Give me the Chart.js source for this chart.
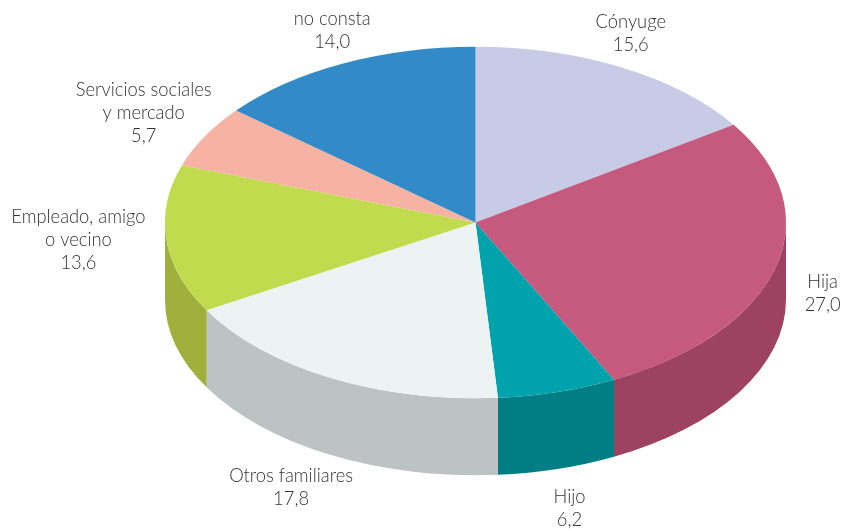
<!DOCTYPE html>
<html>
<head>
<meta charset="utf-8">
<title>Pie</title>
<script src="https://cdn.jsdelivr.net/npm/chart.js@4"></script>
<style>
    html, body { margin: 0; padding: 0; background: #fff; overflow: hidden; }
    #wrap { width: 844px; height: 530px; overflow: hidden; }
</style>
</head>
<body>
<div id="wrap"><canvas id="pie" width="844" height="622"></canvas></div>
<script>
const categories = ['Cónyuge', 'Hija', 'Hijo', 'Otros familiares', 'Empleado, amigo|o vecino', 'Servicios sociales|y mercado', 'no consta'];
const values = [15.6, 27.0, 6.2, 17.8, 13.6, 5.7, 14.0];
const topColors = ['#C8CBE5', '#C5597E', '#00A2AC', '#EDF3F3', '#C2DA4E', '#F6B3A3', '#328AC6'];
const sideColors = ['#A0A2B8', '#9D4261', '#007E86', '#BDC3C2', '#9FB03C', '#C58F82', '#286E9E'];

// label placement relative to the rim point of each slice
const labelNudge = [[9, -39.6], [47, 20], [12, 110.5], [-39, 104.5], [-88, -16.5], [-61, -41], [-11, -38.6]];

const squash = 0.566;   // tilt of the disc
const centerY = 222.5;  // where the disc centre ends up on the page
const depth = 77;       // wall height in page pixels

const tilt = (chart) => {
    const ctx = chart.ctx;
    ctx.translate(0, centerY);
    ctx.scale(1, squash);
    ctx.translate(0, -chart.chartArea.height / 2);
};

const pie3d = {
    id: 'pie3d',
    beforeDatasetsDraw(chart) {
        const ctx = chart.ctx;
        ctx.save();
        tilt(chart);
        // only the front half of the rim is visible
        chart.getDatasetMeta(0).data.forEach((arc, i) => {
            const from = Math.max(arc.startAngle, 0);
            const to = Math.min(arc.endAngle, Math.PI);
            if (to <= from) return;
            ctx.beginPath();
            ctx.arc(arc.x, arc.y, arc.outerRadius, from, to);
            ctx.arc(arc.x, arc.y + depth / squash, arc.outerRadius, to, from, true);
            ctx.closePath();
            ctx.fillStyle = sideColors[i];
            ctx.fill();
        });
    },
    afterDatasetsDraw(chart) {
        const ctx = chart.ctx;
        const meta = chart.getDatasetMeta(0);
        ctx.restore();

        ctx.save();
        ctx.font = '300 19.5px Lato, "Open Sans", sans-serif';
        ctx.fillStyle = '#333';
        ctx.textAlign = 'center';
        meta.data.forEach((arc, i) => {
            const mid = (arc.startAngle + arc.endAngle) / 2;
            const x = arc.x + arc.outerRadius * Math.cos(mid) + labelNudge[i][0];
            const y = centerY + arc.outerRadius * squash * Math.sin(mid) + labelNudge[i][1];
            const lines = categories[i].split('|').concat(values[i].toFixed(1).replace('.', ','));
            lines.forEach((line, n) => {
                // the original face is narrower than Lato
                ctx.save();
                ctx.translate(x, y + n * 23);
                ctx.scale(0.94, 1);
                ctx.fillText(line, 0, 0);
                ctx.restore();
            });
        });
        ctx.restore();
    }
};

new Chart(document.getElementById('pie').getContext('2d'), {
    type: 'pie',
    data: {
        labels: categories,
        datasets: [{
            data: values,
            backgroundColor: topColors,
            borderWidth: 0
        }]
    },
    options: {
        responsive: false,
        animation: false,
        events: [],
        layout: { padding: { left: 165, right: 58, top: 0, bottom: 0 } },
        plugins: {
            legend: { display: false },
            tooltip: { enabled: false }
        }
    },
    plugins: [pie3d]
});
</script>
</body>
</html>
